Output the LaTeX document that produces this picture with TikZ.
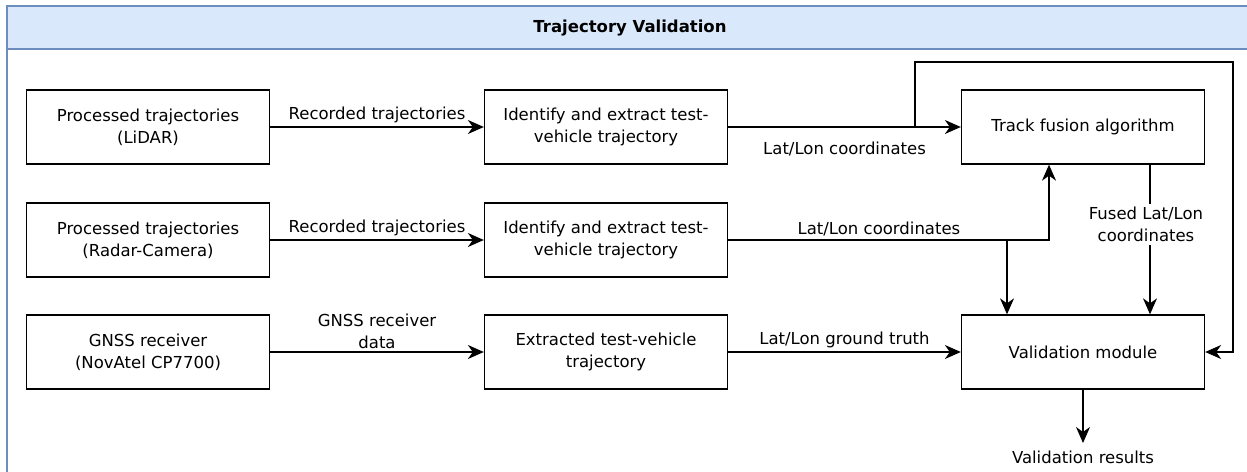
\documentclass[tikz,border=0pt]{standalone}
\usepackage{fontspec}
\setmainfont{DejaVu Sans}
\usepackage{tikz}
\usetikzlibrary{arrows.meta}
\definecolor{headblue}{HTML}{DAE8FC}
\definecolor{frameblue}{HTML}{6C8EBF}

\begin{document}
\begin{tikzpicture}
[x=1pt,y=-1pt,>={Stealth[length=16pt,width=14pt,inset=5pt]},line width=1.3pt,
  box/.style={draw,rectangle,minimum width=243pt,minimum height=74pt,align=center,font=\fontsize{16.5}{22}\selectfont},
  lbl/.style={font=\fontsize{16.5}{22}\selectfont,align=center,inner sep=3pt}]
  \useasboundingbox (0,0) rectangle (1247,471);

  % frame
  \begin{scope}
    \clip (0,0) rectangle (1247,471);
    \draw[frameblue,fill=headblue,line width=1.2pt] (7,49) rectangle (1260,6);
    \draw[frameblue,line width=1.2pt] (7,49) -- (7,480);
  \end{scope}
  \node[font=\fontsize{16.5}{22}\selectfont\bfseries] (title) at (630,28) {Trajectory Validation};

  \node[box] (s1) at (148,127) {Processed trajectories\\(LiDAR)};
  \node[box] (e1) at (606,127) {Identify and extract test-\\vehicle trajectory};
  \node[box] (fus) at (1083,127) {Track fusion algorithm};

  \node[box] (s2) at (148,240) {Processed trajectories\\(Radar-Camera)};
  \node[box] (e2) at (606,240) {Identify and extract test-\\vehicle trajectory};

  \node[box] (s3) at (148,352) {GNSS receiver\\(NovAtel CP7700)};
  \node[box] (e3) at (606,352) {Extracted test-vehicle\\trajectory};
  \node[box] (val) at (1083,352) {Validation module};

  \coordinate (j1) at (915,127);
  \coordinate (lp) at (1233,62);
  \coordinate (j2) at (1007,240);
  \coordinate (res) at (1083,443);
  \node[lbl] (restxt) at (1083,457) {Validation results};

  \foreach \from/\to in {s1/e1,s2/e2}
    \draw[->] (\from) -- (\to) node[lbl,midway,above] {Recorded trajectories};
  \draw[->] (s3) -- (e3) node[lbl,midway,above] {GNSS receiver\\data};

  \draw[->] (e1) -- (fus) node[lbl,midway,below=11pt] {Lat/Lon coordinates};
  \draw[->] (j1) |- (lp) |- (val);
  \draw[->] (e2) -| ([xshift=-34pt]fus.south) node[lbl,pos=0.235,above] {Lat/Lon coordinates};
  \draw[->] (j2) -- (j2 |- val.north);
  \draw[->] ([xshift=67pt]fus.south) -- ([xshift=67pt]val.north)
    node[lbl,pos=0.4,fill=white,xshift=-4pt] {Fused Lat/Lon\\coordinates};
  \draw[->] (e3) -- (val) node[lbl,midway,above] {Lat/Lon ground truth};
  \draw[->] (val) -- (res);

\end{tikzpicture}
\end{document}
